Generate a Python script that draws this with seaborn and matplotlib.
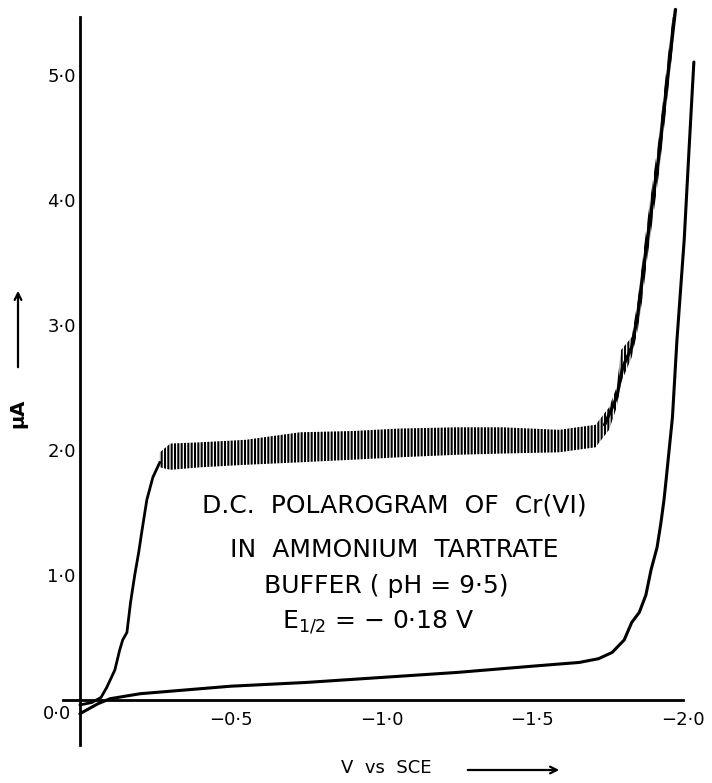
import matplotlib
matplotlib.use("Agg")
import matplotlib.pyplot as plt
import seaborn as sns

# Cr(VI) wave: initial rise (V vs SCE, current in uA)
v_rise = [0.0, -0.04, -0.07, -0.089, -0.116, -0.132, -0.142, -0.156, -0.168,
          -0.182, -0.195, -0.205, -0.222, -0.242, -0.265]
i_rise = [-0.04, -0.02, 0.02, 0.10, 0.24, 0.40, 0.48, 0.54, 0.78,
          1.00, 1.18, 1.34, 1.60, 1.78, 1.90]

# drop oscillation band: upper / lower envelope
v_band = [-0.265, -0.30, -0.40, -0.55, -0.73, -0.90, -1.06, -1.25, -1.40, -1.59,
          -1.71, -1.755, -1.78, -1.795, -1.83, -1.85, -1.865, -1.88, -1.92, -1.95, -1.97]
i_hi = [1.98, 2.05, 2.06, 2.08, 2.14, 2.15, 2.17, 2.18, 2.18, 2.16,
        2.20, 2.34, 2.50, 2.80, 2.90, 3.20, 3.50, 3.80, 4.50, 5.15, 5.55]
i_lo = [1.86, 1.84, 1.86, 1.88, 1.90, 1.92, 1.94, 1.96, 1.97, 1.98,
        2.02, 2.16, 2.34, 2.54, 2.74, 2.96, 3.20, 3.50, 4.20, 4.85, 5.30]

# centre line of the final steep rise
v_top = [-1.74, -1.78, -1.80, -1.83, -1.85, -1.88, -1.92, -1.95, -1.975]
i_top = [2.20, 2.42, 2.66, 2.82, 3.08, 3.65, 4.35, 5.00, 5.52]

# supporting electrolyte (residual current)
v_base = [0.0, -0.03, -0.06, -0.1, -0.2, -0.35, -0.5, -0.75, -1.0, -1.25, -1.5,
          -1.656, -1.72, -1.765, -1.805, -1.83, -1.855, -1.877, -1.894, -1.914,
          -1.927, -1.937, -1.944, -1.965, -1.98, -2.004, -2.02, -2.036]
i_base = [-0.11, -0.07, -0.03, 0.01, 0.05, 0.08, 0.11, 0.14, 0.18, 0.22, 0.27,
          0.30, 0.33, 0.38, 0.48, 0.62, 0.70, 0.84, 1.04, 1.22,
          1.42, 1.60, 1.76, 2.26, 2.88, 3.68, 4.40, 5.10]

x_ticks = [-0.5, -1.0, -1.5, -2.0]
x_labels = ['−0·5', '−1·0', '−1·5', '−2·0']
y_ticks = [1, 2, 3, 4, 5]
y_labels = ['1·0', '2·0', '3·0', '4·0', '5·0']

note_lines = ['D.C.  POLAROGRAM  OF  Cr(VI)',
              'IN  AMMONIUM  TARTRATE',
              'BUFFER ( pH = 9·5)',
              r'E$_{1/2}$ = − 0·18 V']

sns.set_theme(style='white')
plt.rcParams['font.family'] = ['DejaVu Sans']
plt.rcParams['text.color'] = 'black'
plt.rcParams['hatch.color'] = 'black'
plt.rcParams['hatch.linewidth'] = 1.5

W, H = 712, 783
fig = plt.figure(figsize=(W / 100, H / 100), dpi=100)
ax = fig.add_axes([63 / W, 38 / H, 620 / W, 728 / H])

sns.lineplot(x=v_rise, y=i_rise, sort=False, estimator=None, color='black',
             lw=2.0, ax=ax, clip_on=False)
ax.fill_between(v_band, i_lo, i_hi, facecolor='none', edgecolor='black',
                hatch='|||||', linewidth=0)
sns.lineplot(x=v_top, y=i_top, sort=False, estimator=None, color='black',
             lw=2.4, ax=ax, clip_on=False)
sns.lineplot(x=v_base, y=i_base, sort=False, estimator=None, color='black',
             lw=2.2, ax=ax, clip_on=False)

ax.set_xlim(0.056, -2.0)
ax.set_ylim(-0.36, 5.46)

for s in ['top', 'right']:
    ax.spines[s].set_visible(False)
ax.spines['left'].set_position(('data', 0))
ax.spines['bottom'].set_position(('data', 0))
for s in ['left', 'bottom']:
    ax.spines[s].set_color('black')
    ax.spines[s].set_linewidth(2.0)

ax.set_xticks(x_ticks)
ax.set_xticklabels(x_labels)
ax.set_yticks(y_ticks)
ax.set_yticklabels(y_labels)
ax.tick_params(axis='x', direction='in', length=8, width=1.6, pad=8,
               labelsize=13, colors='black')
ax.tick_params(axis='y', direction='in', length=8, width=1.6, pad=3,
               labelsize=13, colors='black')
ax.annotate('0·0', xy=(0, 0), xytext=(-6, -10), textcoords='offset points',
            ha='right', va='center', fontsize=13)

# caption block
ys = [505, 550, 586, 622]
xs = [394, 394, 386, 378]
for t, x, y in zip(note_lines, xs, ys):
    fig.text(x / W, 1 - y / H, t, ha='center', va='center', fontsize=18,
             fontweight='medium')

# axis labels with arrows
fig.text(18 / W, 1 - 413 / H, 'µA', rotation=90, ha='center', va='center',
         fontsize=14, fontweight='bold')
ax.annotate('', xy=(18, H - 288), xytext=(18, H - 370), xycoords='figure pixels',
            textcoords='figure pixels',
            arrowprops=dict(arrowstyle='->', color='black', lw=1.6))
fig.text(386 / W, 1 - 768 / H, 'V  vs  SCE', ha='center', va='center', fontsize=13)
ax.annotate('', xy=(562, H - 770), xytext=(465, H - 770), xycoords='figure pixels',
            textcoords='figure pixels',
            arrowprops=dict(arrowstyle='->', color='black', lw=1.6))

fig.savefig('out.png', dpi=100)
